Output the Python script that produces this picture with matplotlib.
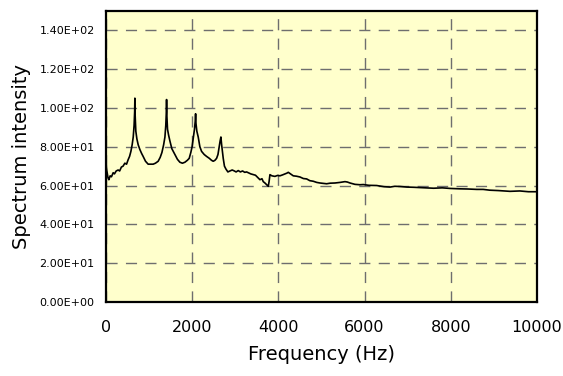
import matplotlib
matplotlib.use("Agg")
import matplotlib.pyplot as plt
from matplotlib.ticker import FuncFormatter

# Spectrum
freq = [0, 20, 50, 70, 100, 130, 170, 200, 240, 285, 320, 360, 400, 440, 480, 517, 550, 580,
        610, 635, 655, 668, 673, 680, 695, 720, 750, 790, 830, 865, 920, 981, 1040, 1097, 1150,
        1213, 1260, 1300, 1340, 1370, 1390, 1403, 1408, 1415, 1430, 1455, 1485, 1530, 1601, 1660,
        1717, 1775, 1833, 1890, 1933, 1970, 2000, 2030, 2055, 2072, 2081, 2090, 2110, 2142, 2180,
        2220, 2280, 2336, 2400, 2450, 2490, 2530, 2568, 2600, 2629, 2650, 2668, 2685, 2705, 2722,
        2750, 2784, 2830, 2877, 2930, 2980, 3020, 3070, 3120, 3170, 3220, 3264, 3310, 3360, 3418,
        3470, 3520, 3573, 3620, 3650, 3689, 3730, 3766, 3785, 3805, 3850, 3921, 3980, 4037, 4100,
        4153, 4200, 4230, 4280, 4346, 4420, 4501, 4580, 4656, 4730, 4810, 4890, 4965, 5040, 5120,
        5200, 5313, 5430, 5545, 5600, 5661, 5777, 5893, 5970, 6100, 6280, 6450, 6589, 6700, 6821,
        6980, 7130, 7300, 7440, 7600, 7800, 7981, 8200, 8400, 8600, 8750, 8900, 9100, 9370, 9600,
        9800, 10000]
intensity = [72, 68, 64, 63, 65, 64.5, 66.6, 66, 67.5, 68, 67.5, 69.5, 70, 71.5, 71, 73.3, 75, 77.5,
             81, 85, 91, 98, 105, 96, 88, 84, 81, 78.5, 76.5, 75, 72.5, 71, 71, 71, 71.5,
             72.5, 74.5, 77, 81, 85, 91, 98, 104.3, 96, 89, 86, 83, 79, 76, 73.5,
             72, 71.5, 72, 73, 74, 77, 80, 85, 89, 93, 97, 92, 88, 85, 80,
             77.6, 76, 75, 74, 73, 72.5, 73, 74, 76, 80, 83, 85, 81, 77, 74,
             70, 68.5, 67, 67.5, 68, 67.5, 67, 67.7, 67, 67.5, 66.8, 67, 66.5, 66, 65.6,
             65.3, 64.2, 63, 63.5, 62, 61.3, 60.4, 59.6, 62, 65.6, 65, 64.7, 65.2, 65, 65.5,
             66, 66.4, 66.8, 66, 65, 64.8, 64.4, 63.6, 63.4, 62.5, 62.2, 61.6, 61.3, 61.1, 60.9,
             61.2, 61.3, 61.6, 62, 61.8, 61.3, 60.6, 60.4, 60.5, 60.1, 60, 59.4, 59.2, 59.6, 59.5,
             59.2, 59.1, 58.9, 58.7, 58.6, 58.8, 58.5, 58.3, 58.2, 58, 58, 57.6, 57.4, 57, 57.2,
             56.8, 56.8]

xticks = [0, 2000, 4000, 6000, 8000, 10000]
yticks = [0, 20, 40, 60, 80, 100, 120, 140]

fig = plt.figure(figsize=(5.63, 3.76), dpi=100)
ax = fig.add_axes([0.188, 0.197, 0.766, 0.774])
ax.set_facecolor("#ffffcc")

ax.plot(freq, intensity, color="black", lw=1.2)

ax.set_xlim(0, 10000)
ax.set_ylim(0, 150)
ax.set_xticks(xticks)
ax.set_yticks(yticks)
ax.yaxis.set_major_formatter(FuncFormatter(lambda v, p: f"{v:.2E}"))

ax.grid(True, color="#6e6e6e", ls=(0, (8, 6)), lw=1.0)
ax.set_axisbelow(True)
for s in ax.spines.values():
    s.set_linewidth(1.6)
    s.set_color("black")

ax.tick_params(axis="both", length=0)
ax.tick_params(axis="y", labelsize=8, pad=8)
ax.tick_params(axis="x", labelsize=11.5, pad=13)

ax.set_xlabel("Frequency (Hz)", fontsize=14, labelpad=7)
ax.set_ylabel("Spectrum intensity", fontsize=14, labelpad=6)

fig.savefig("out.png", dpi=100)
